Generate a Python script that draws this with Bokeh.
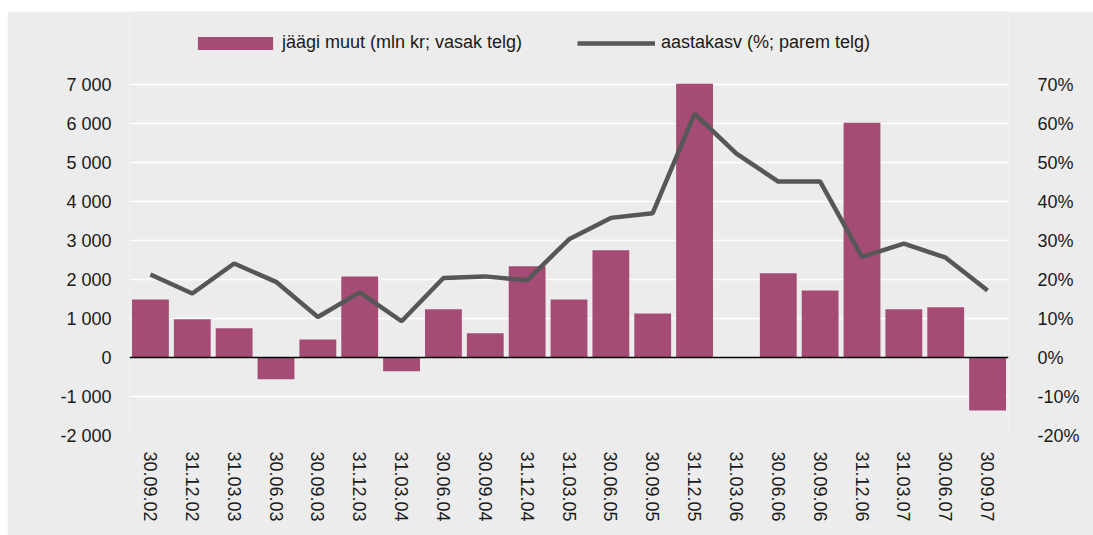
from bokeh.plotting import figure
from bokeh.layouts import column, row
from bokeh.models import (ColumnDataSource, FactorRange, Range1d, LinearAxis, FixedTicker,
                          CustomJSTickFormatter, PrintfTickFormatter, Span, Legend, LegendItem,
                          Spacer)
from bokeh.embed import file_html
from bokeh.resources import INLINE

dates = ["30.09.02", "31.12.02", "31.03.03", "30.06.03", "30.09.03", "31.12.03", "31.03.04",
         "30.06.04", "30.09.04", "31.12.04", "31.03.05", "30.06.05", "30.09.05", "31.12.05",
         "31.03.06", "30.06.06", "30.09.06", "31.12.06", "31.03.07", "30.06.07", "30.09.07"]
muut = [1490, 980, 750, -560, 460, 2080, -350, 1240, 620, 2340, 1490, 2750, 1130, 7020,
        float("nan"), 2160, 1720, 6020, 1240, 1290, -1360]
kasv = [21.3, 16.4, 24.1, 19.4, 10.4, 16.7, 9.3, 20.4, 20.8, 19.8, 30.3, 35.8, 37.0, 62.5,
        52.3, 45.1, 45.1, 25.8, 29.2, 25.6, 17.2]
left_ticks = [-2000, -1000, 0, 1000, 2000, 3000, 4000, 5000, 6000, 7000]
right_ticks = [-20, -10, 0, 10, 20, 30, 40, 50, 60, 70]
label_bar = "jäägi muut (mln kr; vasak telg)"
label_line = "aastakasv (%; parem telg)"

FONT = "Liberation Sans"
BG = "#ECECEC"
BAR = "#A54C75"
LINE = "#575757"
TXT = "#1a1a1a"

# frame: 424 px tall, of which the lowest 351 px span -2000..7000 (legend sits above 7000)
FH = 424
GRID_H = 351
lmin, lmax = -2000, 7000
rmin, rmax = -20, 70
ltop = lmin + (lmax - lmin) * FH / GRID_H
rtop = rmin + (rmax - rmin) * FH / GRID_H

src = ColumnDataSource(dict(d=dates, muut=muut, kasv=kasv))

p = figure(width=1086, height=524, x_range=FactorRange(*dates),
           y_range=Range1d(lmin, ltop), output_backend="svg", toolbar_location=None,
           min_border_left=122, min_border_right=85, min_border_top=0, min_border_bottom=100)
p.background_fill_color = BG
p.border_fill_color = BG
p.outline_line_color = None
p.extra_y_ranges = {"pct": Range1d(rmin, rtop)}

bars = p.vbar(x="d", top="muut", width=0.88, source=src, color=BAR, line_color=None)
ln = p.line(x="d", y="kasv", source=src, y_range_name="pct", line_color=LINE, line_width=4.5)

p.add_layout(Span(location=0, dimension="width", line_color="black", line_width=1.5))

p.xgrid.grid_line_color = None
p.ygrid.grid_line_color = "white"
p.ygrid.grid_line_width = 1.3
p.yaxis.ticker = FixedTicker(ticks=left_ticks)
p.yaxis.formatter = CustomJSTickFormatter(
    code="return String(tick).replace(/\\B(?=(\\d{3})+(?!\\d))/g, ' ');")

ra = LinearAxis(y_range_name="pct", ticker=FixedTicker(ticks=right_ticks),
                formatter=PrintfTickFormatter(format="%d%%"))
p.add_layout(ra, "right")

for ax in [p.xaxis[0], p.yaxis[0], ra]:
    ax.axis_line_color = None
    ax.major_tick_line_color = None
    ax.minor_tick_line_color = None
    ax.major_tick_out = 0
    ax.major_tick_in = 0
    ax.major_label_text_font = FONT
    ax.major_label_text_font_size = "18px"
    ax.major_label_text_color = TXT
p.yaxis[0].major_label_standoff = 18
ra.major_label_standoff = 29
p.xaxis.major_label_orientation = "vertical"
p.xaxis.major_label_standoff = 16

leg1 = Legend(items=[LegendItem(label=label_bar, renderers=[bars])], location=(59, 382),
              orientation="horizontal", glyph_width=94, glyph_height=16, label_standoff=0,
              label_height=20, padding=0, margin=0, background_fill_alpha=0, border_line_color=None,
              label_text_font=FONT, label_text_font_size="18px", label_text_color=TXT)
leg2 = Legend(items=[LegendItem(label=label_line, renderers=[ln])], location=(448, 382),
              orientation="horizontal", glyph_width=78, glyph_height=16, label_standoff=6,
              label_height=20, padding=0, margin=0, background_fill_alpha=0, border_line_color=None,
              label_text_font=FONT, label_text_font_size="18px", label_text_color=TXT)
p.add_layout(leg1)
p.add_layout(leg2)

layout = column(Spacer(height=11), row(Spacer(width=7), p))

open("out.html", "w").write(file_html(layout, INLINE))
